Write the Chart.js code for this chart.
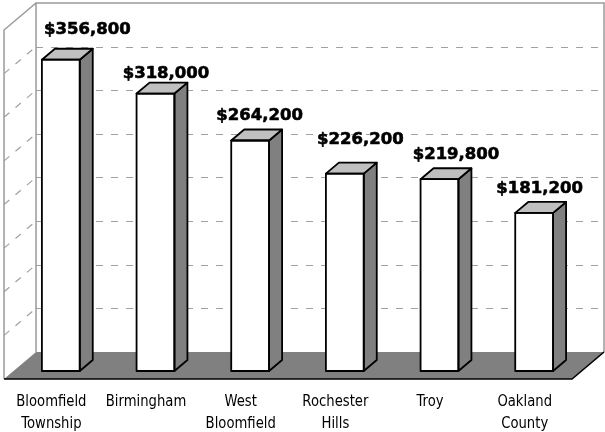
<!DOCTYPE html>
<html>
<head>
<meta charset="utf-8">
<script src="https://cdn.jsdelivr.net/npm/chart.js@4/dist/chart.umd.min.js"></script>
<style>
  html, body { margin: 0; padding: 0; background: #ffffff; }
  canvas { display: block; }
</style>
</head>
<body>
<canvas id="c" width="605" height="432"></canvas>
<script>
// Median home values by community
const categories = [
  ['Bloomfield', 'Township'],
  ['Birmingham'],
  ['West', 'Bloomfield'],
  ['Rochester', 'Hills'],
  ['Troy'],
  ['Oakland', 'County']
];
const medianValues = [356800, 318000, 264200, 226200, 219800, 181200];
const valueAxisMax = 400000;
const valueAxisStep = 50000;

// Small per-label nudges (px) for the value labels above each column
const labelNudge = [[20, -5], [4, 5], [3, 0], [9, -9], [10, 0], [-1, 1]];

// Oblique projection of the floor depth
const DEPTH_X = 32, DEPTH_Y = -27;
const FRONT_T = 0.296;      // depth of the columns' front faces
const COLUMN_T = 0.406;     // column depth as fraction of floor depth

const fmt = v => '$' + v.toLocaleString('en-US');

function proj(px, py, t) {
  return [px + (t - FRONT_T) * DEPTH_X, py + (t - FRONT_T) * DEPTH_Y];
}

function poly(ctx, pts) {
  ctx.beginPath();
  ctx.moveTo(pts[0][0], pts[0][1]);
  for (let i = 1; i < pts.length; i++) ctx.lineTo(pts[i][0], pts[i][1]);
  ctx.closePath();
}

const depthPlugin = {
  id: 'depth3d',
  beforeDatasetsDraw(chart) {
    const { ctx, chartArea: a, scales: { y } } = chart;
    const y0 = y.getPixelForValue(0);
    const yTop = y.getPixelForValue(valueAxisMax);
    const f0 = proj(a.left, y0, 0), f1 = proj(a.right, y0, 0);
    const f2 = proj(a.right, y0, 1), f3 = proj(a.left, y0, 1);
    const wTopL = proj(a.left, yTop, 1), wTopR = proj(a.right, yTop, 1);
    const lTop = proj(a.left, yTop, 0);

    ctx.save();
    // walls
    ctx.fillStyle = '#ffffff';
    poly(ctx, [f3, wTopL, wTopR, f2]); ctx.fill();
    poly(ctx, [f0, lTop, wTopL, f3]); ctx.fill();

    // dashed gridlines on back and side walls
    ctx.strokeStyle = '#a0a0a0';
    ctx.lineWidth = 1;
    ctx.setLineDash([7, 8]);
    for (let v = valueAxisStep; v < valueAxisMax; v += valueAxisStep) {
      const py = y.getPixelForValue(v);
      const b0 = proj(a.left, py, 1), b1 = proj(a.right, py, 1);
      const s0 = proj(a.left, py, 0);
      ctx.beginPath();
      ctx.moveTo(b0[0], Math.round(b0[1]) + 0.5);
      ctx.lineTo(b1[0], Math.round(b1[1]) + 0.5);
      ctx.stroke();
      ctx.lineWidth = 1.2;
      ctx.beginPath();
      ctx.moveTo(s0[0], s0[1]);
      ctx.lineTo(b0[0], b0[1]);
      ctx.stroke();
      ctx.lineWidth = 1;
    }
    ctx.setLineDash([]);

    // floor
    ctx.fillStyle = '#808080';
    poly(ctx, [f0, f1, f2, f3]); ctx.fill();

    // wall outlines
    ctx.strokeStyle = '#9a9a9a';
    ctx.lineWidth = 1.5;
    ctx.beginPath();
    ctx.moveTo(f0[0], f0[1]);
    ctx.lineTo(lTop[0], lTop[1]);
    ctx.lineTo(wTopL[0], wTopL[1]);
    ctx.lineTo(wTopR[0], wTopR[1]);
    ctx.lineTo(f2[0], f2[1]);
    ctx.moveTo(wTopL[0], wTopL[1]);
    ctx.lineTo(f3[0], f3[1]);
    ctx.stroke();

    // floor front edges
    ctx.strokeStyle = '#000000';
    ctx.lineWidth = 1.6;
    ctx.beginPath();
    ctx.moveTo(f0[0], f0[1]);
    ctx.lineTo(f1[0], f1[1]);
    ctx.lineTo(f2[0], f2[1]);
    ctx.stroke();
    ctx.restore();
  },
  afterDatasetsDraw(chart) {
    const { ctx, scales: { x } } = chart;
    const meta = chart.getDatasetMeta(0);
    const bx = COLUMN_T * DEPTH_X, by = COLUMN_T * DEPTH_Y;
    ctx.save();
    ctx.lineWidth = 1.8;
    ctx.lineJoin = 'round';
    ctx.strokeStyle = '#000000';
    meta.data.forEach((bar, i) => {
      const p = bar.getProps(['x', 'y', 'base', 'width'], true);
      const L = p.x - p.width / 2, R = p.x + p.width / 2;
      const T = p.y, B = p.base;
      ctx.lineWidth = 1.8;
      ctx.strokeStyle = '#000000';
      // side face
      ctx.fillStyle = '#808080';
      poly(ctx, [[R, T], [R + bx, T + by], [R + bx, B + by], [R, B]]);
      ctx.fill(); ctx.stroke();
      // top face
      ctx.fillStyle = '#c0c0c0';
      poly(ctx, [[L, T], [R, T], [R + bx, T + by], [L + bx, T + by]]);
      ctx.fill(); ctx.stroke();
      // front face outline
      ctx.strokeRect(L, T, R - L, B - T);

      // value label
      ctx.fillStyle = '#000000';
      ctx.font = 'bold 16.5px "DejaVu Sans"';
      ctx.textAlign = 'center';
      ctx.textBaseline = 'middle';
      ctx.lineWidth = 0.6;
      const n = labelNudge[i];
      const tx = p.x + bx / 2 + n[0], ty = T + by - 14 + n[1];
      ctx.fillText(fmt(medianValues[i]), tx, ty);
      ctx.strokeText(fmt(medianValues[i]), tx, ty);
    });

    // category labels, centred on the floor's front edge
    ctx.fillStyle = '#000000';
    ctx.font = '15px "DejaVu Sans"';
    ctx.textAlign = 'center';
    ctx.textBaseline = 'alphabetic';
    categories.forEach((lines, i) => {
      const cx = proj(x.getPixelForValue(i), 0, 0)[0];
      lines.forEach((line, j) => {
        ctx.save();
        ctx.translate(cx, 406 + j * 22);
        ctx.scale(0.88, 1);
        ctx.fillText(line, 0, 0);
        ctx.restore();
      });
    });
    ctx.restore();
  }
};

new Chart(document.getElementById('c'), {
  type: 'bar',
  data: {
    labels: categories,
    datasets: [{
      data: medianValues,
      backgroundColor: '#ffffff',
      borderWidth: 0,
      categoryPercentage: 1,
      barPercentage: 0.4
    }]
  },
  options: {
    responsive: false,
    animation: false,
    layout: { padding: { left: 13.5, right: 23.5, top: 22, bottom: 61 } },
    plugins: { legend: { display: false }, tooltip: { enabled: false } },
    scales: {
      x: { display: false },
      y: { display: false, min: 0, max: valueAxisMax, ticks: { stepSize: valueAxisStep } }
    }
  },
  plugins: [depthPlugin]
});
</script>
</body>
</html>
